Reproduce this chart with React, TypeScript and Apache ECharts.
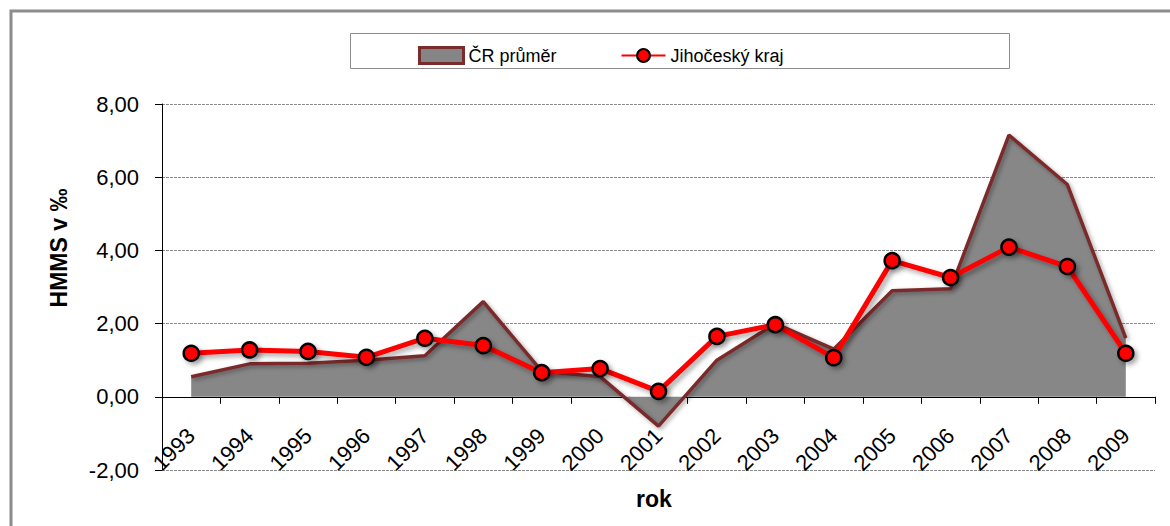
import React, { useEffect, useRef } from "react";
import * as echarts from "echarts";

const years = ["1993","1994","1995","1996","1997","1998","1999","2000","2001","2002","2003","2004","2005","2006","2007","2008","2009"];
const crPrumer = [0.55, 0.9, 0.92, 1.0, 1.12, 2.6, 0.7, 0.55, -0.8, 1.0, 2.0, 1.3, 2.9, 2.95, 7.15, 5.8, 1.6];
const jihocesky = [1.19, 1.28, 1.24, 1.08, 1.6, 1.4, 0.66, 0.77, 0.15, 1.65, 1.97, 1.07, 3.72, 3.26, 4.09, 3.56, 1.19];
const yTicks = { min: -2, max: 8, interval: 2 };
const seriesNames = ["ČR průměr", "Jihočeský kraj"];
const yTitle = "HMMS v ‰";
const xTitle = "rok";

const FONT = "'Liberation Sans', Arial, sans-serif";

export default function App() {
  const ref = useRef<HTMLDivElement>(null);
  useEffect(() => {
    if (!ref.current) return;
    const chart = echarts.init(ref.current, null, { renderer: "svg" });
    chart.setOption({
      animation: false,
      backgroundColor: "#ffffff",
      textStyle: { fontFamily: FONT },
      grid: { left: 162, right: 15, top: 104, bottom: 56, containLabel: false, outerBoundsMode: "none" },
      legend: {
        top: 41,
        left: 413,
        itemWidth: 44,
        itemHeight: 16,
        itemGap: 64,
        textStyle: { fontSize: 18, color: "#000", fontFamily: FONT },
        data: [
          { name: seriesNames[0], icon: "rect", itemStyle: { color: "#858585", borderColor: "#7a2c2c", borderWidth: 3 } },
          { name: seriesNames[1] },
        ],
      },
      graphic: [
        { type: "polyline", shape: { points: [[11, 526], [11, 11], [1170, 11]] }, style: { stroke: "#8c8c8c", lineWidth: 3, fill: null }, z: 0 },
        { type: "rect", shape: { x: 350.5, y: 33.5, width: 659, height: 35 }, style: { stroke: "#8c8c8c", lineWidth: 1, fill: null }, z: 0 },
        { type: "text", x: 59, y: 248, rotation: Math.PI / 2, style: { text: yTitle, font: `bold 23px ${FONT}`, fill: "#000", align: "center", verticalAlign: "middle" } },
        { type: "text", x: 654, y: 499, style: { text: xTitle, font: `bold 23px ${FONT}`, fill: "#000", align: "center", verticalAlign: "middle" } },
      ],
      xAxis: {
        type: "category",
        data: years,
        boundaryGap: true,
        axisLine: { onZero: true, lineStyle: { color: "#000", width: 1 } },
        axisTick: { show: true, inside: false, length: 7, alignWithLabel: false, lineStyle: { color: "#000" } },
        axisLabel: { rotate: 45, fontSize: 22, color: "#000", margin: -38, fontFamily: FONT, interval: 0 },
        splitLine: { show: false },
      },
      yAxis: {
        type: "value",
        min: yTicks.min,
        max: yTicks.max,
        interval: yTicks.interval,
        axisLine: { show: true, lineStyle: { color: "#000", width: 1 } },
        axisTick: { show: true, length: 7, lineStyle: { color: "#000" } },
        axisLabel: {
          fontSize: 22,
          color: "#000",
          margin: 23,
          fontFamily: FONT,
          formatter: (v: number) => v.toFixed(2).replace(".", ","),
        },
        splitLine: { show: true, lineStyle: { color: "#8a8a8a", type: [3, 1], width: 1 } },
      },
      series: [
        {
          name: seriesNames[0],
          type: "line",
          data: crPrumer,
          symbol: "none",
          z: 2,
          lineStyle: { color: "#7a2c2c", width: 3.5, shadowColor: "rgba(0,0,0,0.35)", shadowBlur: 4, shadowOffsetX: 2, shadowOffsetY: 2 },
          itemStyle: { color: "#858585", borderColor: "#7a2c2c" },
          areaStyle: { color: "#878787", origin: 0, opacity: 1 },
        },
        {
          name: seriesNames[1],
          type: "line",
          data: jihocesky,
          symbol: "circle",
          symbolSize: 15,
          z: 3,
          lineStyle: { color: "#ff0000", width: 5, shadowColor: "rgba(0,0,0,0.35)", shadowBlur: 5, shadowOffsetX: 3, shadowOffsetY: 3 },
          itemStyle: { color: "#ff0000", borderColor: "#000", borderWidth: 2.5, shadowColor: "rgba(0,0,0,0.35)", shadowBlur: 5, shadowOffsetX: 3, shadowOffsetY: 3 },
        },
      ],
    });
    return () => chart.dispose();
  }, []);
  return <div ref={ref} style={{ position: "fixed", left: 0, top: 0, width: 1170, height: 526 }} />;
}
